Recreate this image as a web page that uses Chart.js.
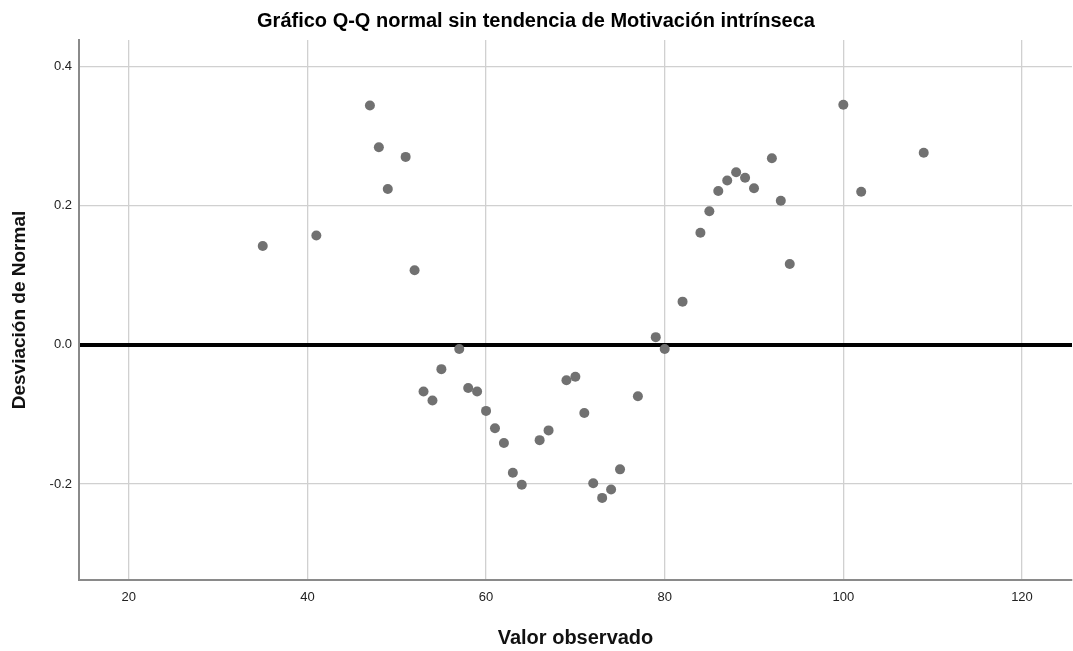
<!DOCTYPE html>
<html>
<head>
<meta charset="utf-8">
<script src="https://cdn.jsdelivr.net/npm/chart.js@4"></script>
<style>
  html, body { margin: 0; padding: 0; background: #fff; }
  #wrap { width: 1073px; height: 651px; }
</style>
</head>
<body>
<div id="wrap"><canvas id="qq"></canvas></div>
<script>
var observed = [35, 41, 47, 48, 49, 51, 52, 53, 54, 55, 57, 58, 59, 60, 61, 62, 63, 64,
    66, 67, 69, 70, 71, 72, 73, 74, 75, 77, 79, 80, 82, 84, 85, 86, 87, 88, 89, 90,
    92, 93, 94, 100, 102, 109];
var deviation = [0.142, 0.157, 0.344, 0.284, 0.224, 0.270, 0.107, -0.067, -0.080, -0.035,
    -0.006, -0.062, -0.067, -0.095, -0.120, -0.141, -0.184, -0.201,
    -0.137, -0.123, -0.051, -0.046, -0.098, -0.199, -0.220, -0.208, -0.179, -0.074,
    0.011, -0.006, 0.062, 0.161, 0.192, 0.221, 0.236, 0.248, 0.240, 0.225,
    0.268, 0.207, 0.116, 0.345, 0.220, 0.276];
var xTicks = [20, 40, 60, 80, 100, 120];
var yTicks = [-0.2, 0.0, 0.2, 0.4];

var points = observed.map(function (v, i) { return { x: v, y: deviation[i] }; });

Chart.defaults.font.family = "'Liberation Sans', Arial, sans-serif";
Chart.defaults.color = '#222';

const config_scatter = {
    type: 'scatter',
    data: {
        datasets: [{
            label: 'Motivación intrínseca',
            data: points,
            backgroundColor: '#717171',
            borderColor: '#717171',
            borderWidth: 0,
            pointRadius: 5,
            pointHoverRadius: 5
        }]
    },
    options: {
        responsive: true,
        maintainAspectRatio: false,
        animation: false,
        layout: { autoPadding: false, padding: { right: 1 } },
        plugins: {
            legend: { display: false },
            tooltip: { enabled: false },
            title: {
                display: true,
                text: 'Gráfico Q-Q normal sin tendencia de Motivación intrínseca',
                color: '#000',
                font: { size: 20, weight: 'bold' },
                padding: { top: 9, bottom: 7 }
            }
        },
        scales: {
            x: {
                type: 'linear',
                min: 14.43,
                max: 125.6,
                afterBuildTicks: function (s) { s.ticks = xTicks.map(function (v) { return { value: v }; }); },
                afterFit: function (s) { s.height = 71; },
                border: { color: '#8a8a8a', width: 2 },
                grid: { color: '#d0d0d0', lineWidth: 1.3, drawTicks: false },
                ticks: { padding: 10, color: '#222', font: { size: 13 } },
                title: {
                    display: true,
                    text: 'Valor observado',
                    color: '#111',
                    font: { size: 20, weight: 'bold' },
                    padding: { top: 12, bottom: 1 }
                }
            },
            y: {
                type: 'linear',
                min: -0.338,
                max: 0.438,
                afterBuildTicks: function (s) { s.ticks = yTicks.map(function (v) { return { value: v }; }); },
                afterFit: function (s) { s.width = 79; },
                border: { color: '#8a8a8a', width: 2 },
                grid: {
                    drawTicks: false,
                    color: function (ctx) { return ctx.tick && ctx.tick.value === 0 ? '#000' : '#d0d0d0'; },
                    lineWidth: function (ctx) { return ctx.tick && ctx.tick.value === 0 ? 4 : 1.3; }
                },
                ticks: {
                    padding: 7,
                    color: '#222',
                    font: { size: 13 },
                    callback: function (v) { return Number(v).toFixed(1); }
                },
                title: {
                    display: true,
                    text: 'Desviación de Normal',
                    color: '#111',
                    font: { size: 19, weight: 'bold' },
                    padding: { top: 8, bottom: 4 }
                }
            }
        }
    }
};

var myChart = new Chart(document.getElementById('qq'), config_scatter);
</script>
</body>
</html>
